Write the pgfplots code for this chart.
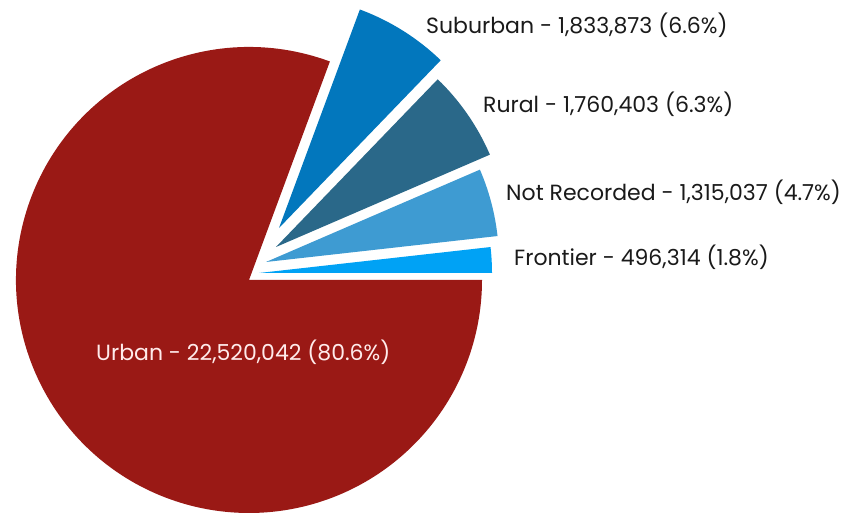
\documentclass[border=0pt]{standalone}
\usepackage{pgfplots}
\usepackage{pgfplotstable}
\pgfplotsset{compat=1.18}
\usepackage{fontspec}
\setmainfont{Poppins}

\definecolor{curban}{HTML}{9A1915}
\definecolor{csub}{HTML}{0277BD}
\definecolor{crural}{HTML}{2A6889}
\definecolor{cnr}{HTML}{3E9BD2}
\definecolor{cfront}{HTML}{00A2F5}
\definecolor{ctext}{HTML}{1A1A1A}

% slices counter-clockwise from 0 deg; dx/dy = explode offset (px)
\pgfplotstableread{
name        value    dx dy col
Frontier    496314   10 7  cfront
NotRecorded 1315037  17 18 cnr
Rural       1760403  27 33 crural
Suburban    1833873  30 52 csub
Urban       22520042 0  0  curban
}\piedata

\begin{document}
\begin{tikzpicture}
\xdef\pietotal{0}
\pgfplotsinvokeforeach{0,...,4}{%
  \pgfplotstablegetelem{#1}{value}\of\piedata
  \xdef\pietotal{\fpeval{\pietotal+\pgfplotsretval}}%
}
\xdef\pieangle{0}
\begin{axis}[
  hide axis,
  scale only axis,
  x=1pt, y=1pt,
  xmin=0, xmax=851,
  ymin=0, ymax=514,
  clip=false,
]
\coordinate (bl) at (axis cs:0,0);
\coordinate (tr) at (axis cs:851,514);
\pgfplotsinvokeforeach{0,...,4}{%
  \pgfplotstablegetelem{#1}{value}\of\piedata \edef\pv{\pgfplotsretval}%
  \pgfplotstablegetelem{#1}{dx}\of\piedata \edef\pdx{\pgfplotsretval}%
  \pgfplotstablegetelem{#1}{dy}\of\piedata \edef\pdy{\pgfplotsretval}%
  \pgfplotstablegetelem{#1}{col}\of\piedata \edef\pcol{\pgfplotsretval}%
  \edef\pa{\pieangle}%
  \xdef\pieangle{\fpeval{\pieangle+360*\pv/\pietotal}}%
  \edef\pcx{\fpeval{249+\pdx}}%
  \edef\pcy{\fpeval{234+\pdy}}%
  \edef\pcmd{\noexpand\fill[\pcol] (axis cs:\pcx,\pcy) -- ++(\pa:233pt)
    arc[start angle=\pa, end angle=\pieangle, radius=233pt] -- cycle;}%
  \pcmd
}
\begin{scope}[every node/.style={anchor=west, font=\fontsize{22}{25}\selectfont, text=ctext, inner sep=0pt}]
\node at (axis cs:426,489) {Suburban - 1,833,873 (6.6\%)};
\node at (axis cs:483,410) {Rural - 1,760,403 (6.3\%)};
\node at (axis cs:506,322) {Not Recorded - 1,315,037 (4.7\%)};
\node at (axis cs:514,257) {Frontier - 496,314 (1.8\%)};
\node[text=white!92!red] at (axis cs:96,162) {Urban - 22,520,042 (80.6\%)};
\end{scope}
\end{axis}
\pgfresetboundingbox
\path[use as bounding box] (bl) rectangle (tr);
\end{tikzpicture}
\end{document}
